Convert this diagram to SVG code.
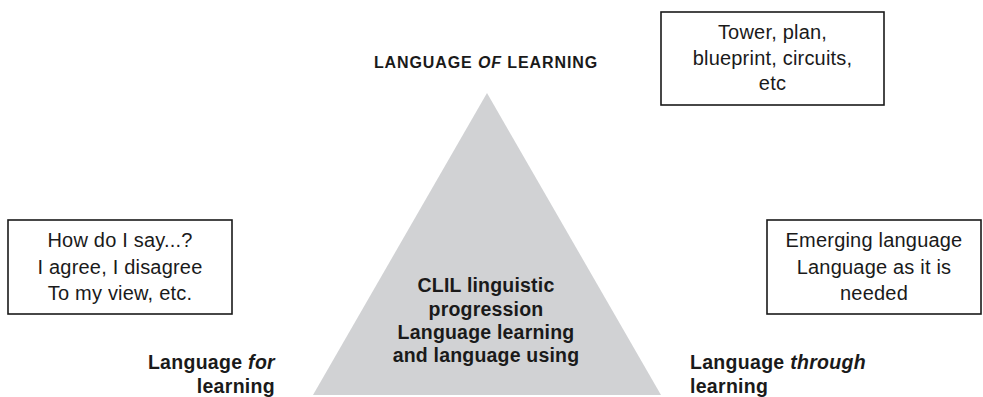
<svg xmlns="http://www.w3.org/2000/svg" width="983" height="397" viewBox="0 0 983 397">
<style>
.box{fill:#fff;stroke:#1a1a1a;stroke-width:1.6}
.t{font-family:"Liberation Sans",Arial,sans-serif;font-size:20px;letter-spacing:0.2px;fill:#1a1a1a;text-anchor:middle}
.b{font-family:"Liberation Sans",Arial,sans-serif;font-size:19.5px;letter-spacing:0.3px;font-weight:bold;fill:#1a1a1a}
.c{font-family:"Liberation Sans",Arial,sans-serif;font-size:19.5px;letter-spacing:0.2px;font-weight:bold;fill:#1a1a1a;text-anchor:middle}
</style>
<rect width="983" height="397" fill="#fff"/>
<g id="triangle">
<polygon points="487,93 313,395 661,395" fill="#d1d2d4"/>
<text class="c" x="486" y="292">CLIL linguistic</text>
<text class="c" x="486" y="315.5">progression</text>
<text class="c" x="486" y="339">Language learning</text>
<text class="c" x="486" y="362">and language using</text>
</g>
<g id="label-of">
<text class="b" x="486" y="68" text-anchor="middle" style="font-size:16px;letter-spacing:0.9px">LANGUAGE <tspan font-style="italic">OF</tspan> LEARNING</text>
</g>
<g id="box-top">
<rect class="box" x="661" y="12" width="223" height="93"/>
<text class="t" x="772.5" y="39">Tower, plan,</text>
<text class="t" x="772.5" y="65">blueprint, circuits,</text>
<text class="t" x="772.5" y="90">etc</text>
</g>
<g id="box-left">
<rect class="box" x="8" y="220" width="224" height="94"/>
<text class="t" x="120" y="247">How do I say...?</text>
<text class="t" x="120" y="274">I agree, I disagree</text>
<text class="t" x="120" y="300">To my view, etc.</text>
</g>
<g id="box-right">
<rect class="box" x="767" y="220" width="214" height="94"/>
<text class="t" x="874" y="247">Emerging language</text>
<text class="t" x="874" y="274">Language as it is</text>
<text class="t" x="874" y="300">needed</text>
</g>
<g id="label-for">
<text class="b" x="275" y="369" text-anchor="end">Language <tspan font-style="italic">for</tspan></text>
<text class="b" x="275" y="393" text-anchor="end">learning</text>
</g>
<g id="label-through">
<text class="b" x="690" y="369">Language <tspan font-style="italic">through</tspan></text>
<text class="b" x="690" y="393">learning</text>
</g>
<g id="connectors"></g>
</svg>
